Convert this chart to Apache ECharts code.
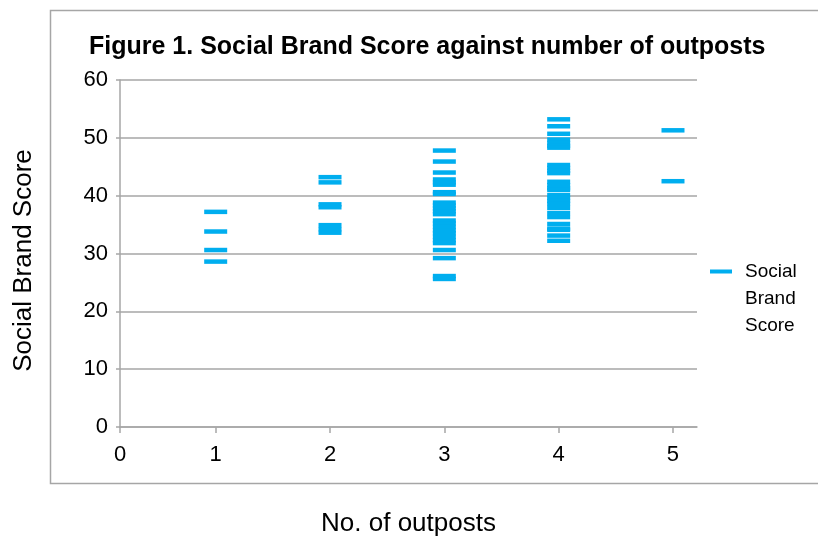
<!DOCTYPE html>
<html>
<head>
<meta charset="utf-8">
<script src="https://cdn.jsdelivr.net/npm/echarts@6/dist/echarts.min.js"></script>
<style>
  html, body { margin: 0; padding: 0; background: #fff; }
  #my_chart { width: 818px; height: 537px; }
</style>
</head>
<body>
<div id="my_chart"></div>
<script>
  // values, one list per number of outposts
  var outposts = [1, 2, 3, 4, 5];
  var score1 = [37.2, 33.8, 30.6, 28.6];
  var score2 = [43.2, 42.3, 38.5, 38.0, 34.9, 34.2, 33.6];
  var score3 = [47.8, 45.9, 44.0, 42.8, 42.3, 41.9, 40.6, 40.3, 38.8, 38.3, 37.8, 37.3, 36.8,
                35.7, 35.2, 34.6, 34.0, 33.5, 32.9, 32.3, 31.8, 30.6, 29.2, 26.1, 25.6];
  var score4 = [53.2, 52.0, 50.7, 49.7, 49.1, 48.6, 48.3, 45.3, 44.8, 44.3, 43.9, 42.4, 41.8,
                41.3, 41.0, 40.1, 39.6, 39.1, 38.6, 37.9, 37.0, 36.3, 35.1, 34.3, 34.1, 33.1, 32.2];
  var score5 = [51.3, 42.5];
  var xTicks = [0, 1, 2, 3, 4, 5];
  var yTicks = [0, 10, 20, 30, 40, 50, 60];

  var scores = [score1, score2, score3, score4, score5];
  var points = [];
  outposts.forEach(function (n, i) {
    scores[i].forEach(function (v) { points.push([n, v]); });
  });

  // the x axis in the picture starts a little right of 0
  var xMin = 0.163, xMax = 5.21;
  var xTickPos = xTicks.map(function (t) { return t === 0 ? xMin : t; });

  var gridGray = '#a6a6a6';
  var font = '"Liberation Sans", Arial, sans-serif';

  var my_chart = echarts.init(document.getElementById('my_chart'));
  my_chart.setOption({
    animation: false,
    textStyle: { fontFamily: font },
    title: {
      text: 'Figure 1. Social Brand Score against number of outposts',
      left: 84, top: 30,
      textStyle: { fontSize: 25, fontWeight: 'bold', color: '#000', fontFamily: font }
    },
    graphic: [{
      type: 'rect',
      shape: { x: 50.5, y: 10.5, width: 820, height: 473 },
      style: { fill: 'none', stroke: gridGray, lineWidth: 1.5 },
      silent: true
    }],
    legend: {
      left: 705, top: 253,
      itemWidth: 22, itemHeight: 58,
      itemGap: 10,
      icon: 'path://M0,0 L22,0 L22,4 L0,4 Z M0,57.98 L0.02,57.98 L0.02,58 L0,58 Z',
      formatter: function (name) { return name.split(' ').join('\n'); },
      textStyle: { fontSize: 19, lineHeight: 27, color: '#000', fontFamily: font, padding: [0, 0, 0, 8] }
    },
    grid: { left: 120, right: 121, top: 80, bottom: 110, containLabel: false, outerBoundsMode: 'none' },
    xAxis: {
      type: 'value',
      min: xMin, max: xMax,
      name: 'No. of outposts',
      nameLocation: 'middle',
      nameGap: 84,
      nameTextStyle: { fontSize: 26, color: '#000' },
      axisLine: { show: true, lineStyle: { color: gridGray, width: 1.5 } },
      axisTick: { show: true, length: 6, customValues: xTickPos, lineStyle: { color: gridGray, width: 1.5 } },
      axisLabel: {
        customValues: xTickPos,
        formatter: function (v) { return String(Math.round(v)); },
        fontSize: 22, color: '#000', margin: 17
      },
      splitLine: { show: false }
    },
    yAxis: {
      type: 'value',
      min: yTicks[0], max: yTicks[yTicks.length - 1], interval: 10,
      name: 'Social Brand Score',
      nameLocation: 'middle',
      nameGap: 83,
      nameTextStyle: { fontSize: 26, color: '#000', padding: [0, 14, 0, 0] },
      axisLine: { show: true, lineStyle: { color: gridGray, width: 1.5 } },
      axisTick: { show: true, length: 4, lineStyle: { color: gridGray, width: 1.5 } },
      axisLabel: { fontSize: 22, color: '#000', margin: 12 },
      splitLine: { show: true, lineStyle: { color: gridGray, width: 1.5 } }
    },
    series: [{
      name: 'Social Brand Score',
      type: 'scatter',
      symbol: 'rect',
      symbolSize: [23, 4.5],
      itemStyle: { color: '#00AEEF', opacity: 1 },
      data: points
    }]
  });
</script>
</body>
</html>
